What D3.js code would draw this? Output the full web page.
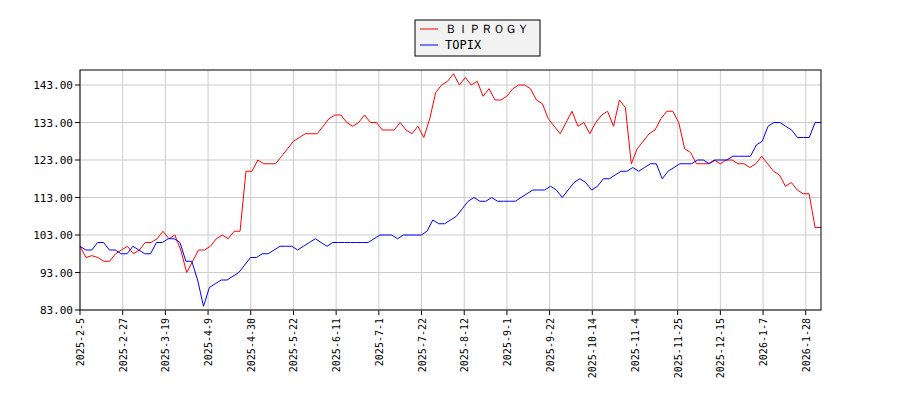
<!DOCTYPE html><html><head><meta charset="utf-8">
<script src="https://cdn.jsdelivr.net/npm/d3@7"></script>
<style>body{margin:0;background:#fff}</style></head><body>
<svg id="c" width="900" height="400"></svg>
<script>
const tickLabels=["2025-2-5","2025-2-27","2025-3-19","2025-4-9","2025-4-30","2025-5-22","2025-6-11","2025-7-1","2025-7-22","2025-8-12","2025-9-1","2025-9-22","2025-10-14","2025-11-4","2025-11-25","2025-12-15","2026-1-7","2026-1-28"];
const yTicks=[83,93,103,113,123,133,143];
const biprogy=[100,97,97.5,97,96,96,98,99,100,98,99,101,101,102,104,102,103,99,93,96,99,99,100,102,103,102,104,104,120,120,123,122,122,122,124,126,128,129,130,130,130,132,134,135,135,133,132,133,135,133,133,131,131,131,133,131,130,132,129,134,141,143,144,146,143,145,143,144,140,142,139,139,140,142,143,143,142,139,138,134,132,130,133,136,132,133,130,133,135,136,132,139,137,122,126,128,130,131,134,136,136,133,126,125,122,122,122,123,122,123,123,122,122,121,122,124,122,120,119,116,117,115,114,114,105,105];
const topix=[100,99,99,101,101,99,99,98,98,100,99,98,98,101,101,102,102,101,96,96,91,84,89,90,91,91,92,93,95,97,97,98,98,99,100,100,100,99,100,101,102,101,100,101,101,101,101,101,101,101,102,103,103,103,102,103,103,103,103,104,107,106,106,107,108,110,112,113,112,112,113,112,112,112,112,113,114,115,115,115,116,115,113,115,117,118,117,115,116,118,118,119,120,120,121,120,121,122,122,118,120,121,122,122,122,123,123,122,123,123,123,124,124,124,124,127,128,132,133,133,132,131,129,129,129,133,133];
const N=244, tickStep=14;
const svg=d3.select("#c");
const L=80,R=821,T=70,B=310;
const x=d3.scaleLinear().domain([0,N-1]).range([L,R]);
const y=d3.scaleLinear().domain([83,147]).range([B,T]);
const g=svg.append("g");
tickLabels.forEach((t,i)=>{const xx=x(i*tickStep);
 g.append("line").attr("x1",xx).attr("x2",xx).attr("y1",T).attr("y2",B).attr("stroke","#ccc");
 g.append("line").attr("x1",xx).attr("x2",xx).attr("y1",B).attr("y2",B+5).attr("stroke","#000");
 g.append("text").attr("transform",`translate(${xx+4},${B+8}) rotate(-90)`).attr("text-anchor","end")
  .attr("font-family","DejaVu Sans Mono").attr("font-size",10).text(t);});
yTicks.forEach(v=>{const yy=y(v);
 g.append("line").attr("x1",L).attr("x2",R).attr("y1",yy).attr("y2",yy).attr("stroke","#ccc");
 g.append("line").attr("x1",L-5).attr("x2",L).attr("y1",yy).attr("y2",yy).attr("stroke","#000");
 g.append("text").attr("x",L-7).attr("y",yy+4).attr("text-anchor","end")
  .attr("font-family","DejaVu Sans Mono").attr("font-size",11).text(v.toFixed(2));});
function draw(data,color){const xs=d3.scaleLinear().domain([0,data.length-1]).range([0,N-1]);
 svg.append("path").datum(data).attr("fill","none").attr("stroke",color).attr("stroke-width",1)
  .attr("d",d3.line().x((d,i)=>x(xs(i))).y(d=>y(d)));}
draw(biprogy,"#ff0000");draw(topix,"#0000ff");
svg.append("rect").attr("x",L).attr("y",T).attr("width",R-L).attr("height",B-T).attr("fill","none").attr("stroke","#000");
const lg=svg.append("g");
lg.append("rect").attr("x",415).attr("y",20).attr("width",125).attr("height",36).attr("fill","#f2f2f2").attr("stroke","#000");
[["ＢＩＰＲＯＧＹ","#ff0000",29],["TOPIX","#0000ff",45]].forEach(([t,c,yy])=>{
 lg.append("line").attr("x1",420).attr("x2",438).attr("y1",yy).attr("y2",yy).attr("stroke",c);
 lg.append("text").attr("x",445).attr("y",yy+4).attr("font-family","DejaVu Sans Mono").attr("font-size",12).text(t);});
</script></body></html>
